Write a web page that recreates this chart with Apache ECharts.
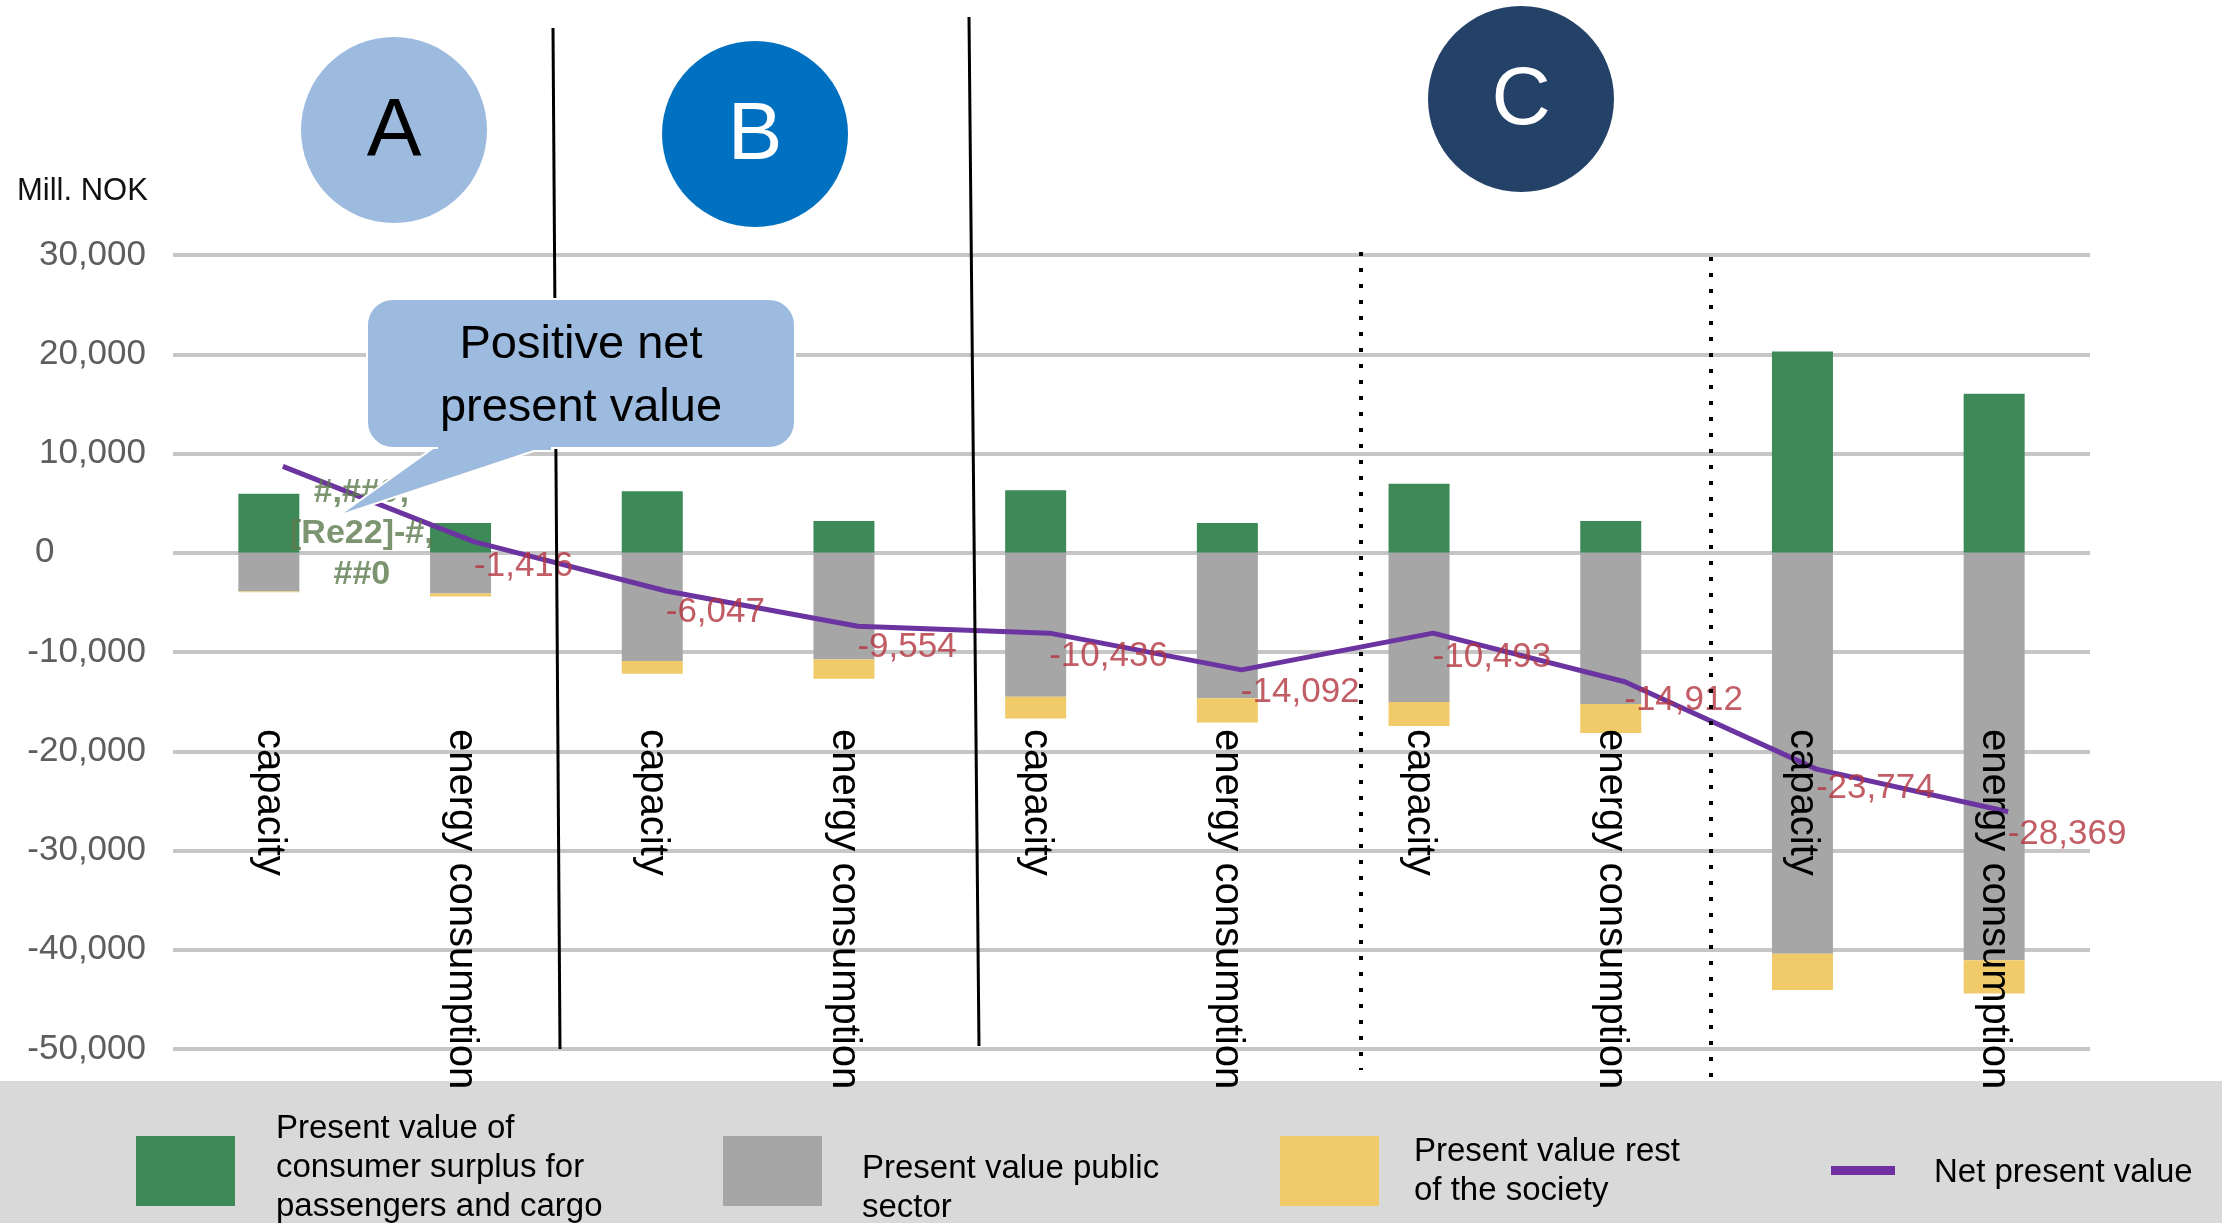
<!DOCTYPE html>
<html>
<head>
<meta charset="utf-8">
<script src="https://cdn.jsdelivr.net/npm/echarts@6/dist/echarts.min.js"></script>
<style>
html, body { margin: 0; padding: 0; background: #fff; }
#chart { width: 2222px; height: 1223px; }
</style>
</head>
<body>
<div id="chart"></div>
<script>
// categories: A (2), B (2), C (3 pairs)
var categories = ['capacity', 'energy consumption', 'capacity', 'energy consumption', 'capacity',
    'energy consumption', 'capacity', 'energy consumption', 'capacity', 'energy consumption'];

// Mill. NOK
var consumerSurplus = [5950, 3000, 6200, 3200, 6300, 3000, 6950, 3200, 20270, 16020];
var publicSector = [-3900, -4100, -10900, -10750, -14500, -14650, -15050, -15250, -40400, -41050];
var restOfSociety = [-80, -300, -1300, -1950, -2200, -2450, -2400, -2900, -3650, -3350];

// line as drawn in the picture (it sits a bit above its labels)
var netLine = [8700, 1100, -3850, -7400, -8100, -11800, -8100, -13000, -21800, -26100];
// label values
var netValues = [1970, -1416, -6047, -9554, -10436, -14092, -10493, -14912, -23774, -28369];
var brokenLabel = '#,##0;\n[Re22]-#,\n##0';

var yMin = -50000;
var yMax = 30000;
var yStep = 10000;

var seriesNames = [
    'Present value of\nconsumer surplus for\npassengers and cargo',
    'Present value public\nsector',
    'Present value rest\nof the society',
    'Net present value'
];
var colors = ['#3e8958', '#a6a6a6', '#f1cb69', '#7030a0'];

var fontFamily = 'Liberation Sans, Arial, sans-serif';

var myChart = echarts.init(document.getElementById('chart'));

function legendItem(i, x, iconY, iconW, iconH, textX, textY) {
    return [
        { type: 'rect', z: 5, shape: { x: x, y: iconY, width: iconW, height: iconH }, style: { fill: colors[i] } },
        { type: 'text', z: 5, x: textX, y: textY, style: {
            text: seriesNames[i], fill: '#000', font: '33px ' + fontFamily,
            lineHeight: 39, verticalAlign: 'middle', align: 'left' } }
    ];
}

function circle(cx, cy, fill, letter, letterColor) {
    return [
        { type: 'circle', z: 20, shape: { cx: cx, cy: cy, r: 93 }, style: { fill: fill } },
        { type: 'text', z: 21, x: cx, y: cy + 2, style: {
            text: letter, fill: letterColor, font: '82px ' + fontFamily,
            align: 'center', verticalAlign: 'middle' } }
    ];
}

var graphics = [
    // legend band
    { type: 'rect', z: -1, shape: { x: 0, y: 1081, width: 2222, height: 142 }, style: { fill: '#d9d9d9' } },
    { type: 'text', z: 5, x: 17, y: 191, style: { text: 'Mill. NOK', fill: '#111',
        font: '31px ' + fontFamily, verticalAlign: 'middle' } },
    // section separators
    { type: 'line', z: 50, shape: { x1: 553, y1: 28, x2: 560, y2: 1049 }, style: { stroke: '#000', lineWidth: 3 } },
    { type: 'line', z: 50, shape: { x1: 969, y1: 17, x2: 979, y2: 1046 }, style: { stroke: '#000', lineWidth: 3 } },
    { type: 'line', z: 50, shape: { x1: 1361, y1: 252, x2: 1361, y2: 1070 }, style: { stroke: '#000', lineWidth: 4, lineDash: [4, 12] } },
    { type: 'line', z: 50, shape: { x1: 1711, y1: 257, x2: 1711, y2: 1077 }, style: { stroke: '#000', lineWidth: 4, lineDash: [4, 12] } },
    // speech bubble
    { type: 'polygon', z: 60, shape: { points: [[436, 446], [549, 446], [338, 516]] },
        style: { fill: '#9dbadf', stroke: '#fff', lineWidth: 2 } },
    { type: 'rect', z: 61, shape: { x: 367, y: 299, width: 428, height: 149, r: 26 },
        style: { fill: '#9dbadf', stroke: '#fff', lineWidth: 2 } },
    { type: 'rect', z: 62, shape: { x: 438, y: 440, width: 113, height: 10 }, style: { fill: '#9dbadf' } },
    { type: 'text', z: 63, x: 581, y: 377, style: { text: 'Positive net\npresent value', fill: '#000',
        font: '47px ' + fontFamily, lineHeight: 63, align: 'center', verticalAlign: 'middle' } }
];
graphics = graphics
    .concat(circle(394, 130, '#9dbadf', 'A', '#000'))
    .concat(circle(755, 134, '#0070c0', 'B', '#fff'))
    .concat(circle(1521, 99, '#244168', 'C', '#fff'))
    .concat(legendItem(0, 136, 1136, 99, 70, 276, 1168))
    .concat(legendItem(1, 723, 1136, 99, 70, 862, 1188))
    .concat(legendItem(2, 1280, 1136, 99, 70, 1414, 1171))
    .concat(legendItem(3, 1831, 1166, 64, 9, 1934, 1173));

var netData = netValues.map(function (v, i) {
    if (i === 0) {
        return {
            value: v,
            label: {
                position: 'inside', offset: [93, 0], align: 'center',
                color: '#5b7b4c', fontWeight: 'bold', fontSize: 34, lineHeight: 41,
                formatter: brokenLabel
            }
        };
    }
    return v;
});

var option = {
    animation: false,
    backgroundColor: '#fff',
    textStyle: { fontFamily: fontFamily },
    grid: [
        { left: 173, right: 132, top: 255, bottom: 174, outerBoundsMode: 'none' },
        { left: 187, right: 118, top: 255, bottom: 174, outerBoundsMode: 'none' }
    ],
    xAxis: [{
        type: 'category',
        data: categories,
        z: 10,
        axisLine: { show: false, onZero: false },
        axisTick: { show: false },
        // labels hang from about -18,000, not from the axis bottom
        axisLabel: { interval: 0, rotate: -90, margin: -320, fontSize: 40, color: '#000' }
    }, {
        type: 'category', gridIndex: 1, data: categories, show: false
    }],
    yAxis: [{
        type: 'value',
        min: yMin, max: yMax, interval: yStep,
        axisLine: { show: false },
        axisTick: { show: false },
        splitLine: { lineStyle: { color: '#c6c6c6', width: 4 } },
        axisLabel: {
            margin: 27, fontSize: 35, color: '#5e5e5e',
            formatter: function (v) {
                if (v === 0) return '{z|0}';
                return v.toLocaleString('en-US');
            },
            rich: { z: { width: 111, align: 'left', fontSize: 35, color: '#5e5e5e' } }
        }
    }, {
        type: 'value', gridIndex: 1, min: yMin, max: yMax, interval: yStep, show: false
    }],
    graphic: graphics,
    series: [{
        name: seriesNames[0], type: 'bar', stack: 'total', barWidth: 61,
        itemStyle: { color: colors[0] }, data: consumerSurplus
    }, {
        name: seriesNames[1], type: 'bar', stack: 'total', barWidth: 61,
        itemStyle: { color: colors[1] }, data: publicSector
    }, {
        name: seriesNames[2], type: 'bar', stack: 'total', barWidth: 61,
        itemStyle: { color: colors[2] }, data: restOfSociety
    }, {
        name: seriesNames[3], type: 'line', xAxisIndex: 1, yAxisIndex: 1,
        symbol: 'none', z: 4,
        lineStyle: { color: '#6c34a0', width: 5 },
        data: netLine
    }, {
        name: 'labels', type: 'scatter', symbolSize: 1, z: 5,
        itemStyle: { color: 'rgba(0,0,0,0)' },
        label: {
            show: true, position: 'right', distance: 13,
            fontSize: 35, color: '#b3343f',
            formatter: function (p) { return p.value.toLocaleString('en-US'); }
        },
        data: netData
    }]
};
myChart.setOption(option);
</script>
</body>
</html>
